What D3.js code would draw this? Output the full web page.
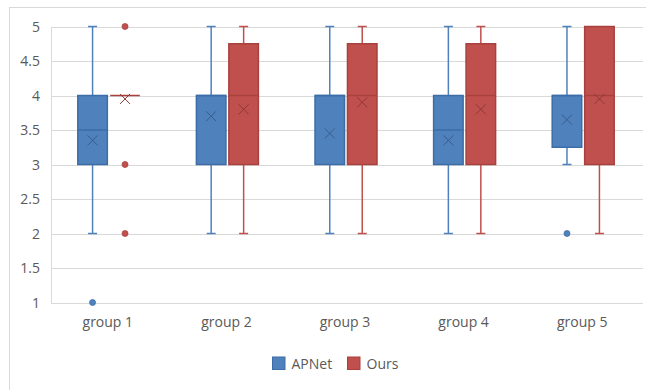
<!DOCTYPE html>
<html><head><meta charset="utf-8">
<script src="https://cdn.jsdelivr.net/npm/d3@7"></script>
<style>body{margin:0;background:#fff}svg{display:block}text{font-family:"Open Sans",sans-serif;fill:#595959}</style>
</head><body><svg id="c" width="646" height="390"></svg>
<script>
const groups = ["group 1","group 2","group 3","group 4","group 5"];
const yTicks = [1,1.5,2,2.5,3,3.5,4,4.5,5];
const seriesNames = ["APNet","Ours"];
const apnetMin = [2,2,2,2,3];
const apnetQ1 = [3,3,3,3,3.25];
const apnetMedian = [3.5,4,4,3.5,4];
const apnetQ3 = [4,4,4,4,4];
const apnetMax = [5,5,5,5,5];
const apnetMean = [3.35,3.7,3.45,3.35,3.65];
const apnetOutliers = [[1],[],[],[],[2]];
const oursMin = [4,2,2,2,2];
const oursQ1 = [4,3,3,3,3];
const oursMedian = [4,4,4,4,4];
const oursQ3 = [4,4.75,4.75,4.75,5];
const oursMax = [4,5,5,5,5];
const oursMean = [3.95,3.8,3.9,3.8,3.95];
const oursOutliers = [[5,3,2],[],[],[],[]];

const styles = [
  {fill:"#4F81BD", stroke:"#3D6DA6", dark:"#385D8A"},
  {fill:"#C0504D", stroke:"#A8403D", dark:"#8C3836"}
];
const series = [
  {name:seriesNames[0], min:apnetMin, q1:apnetQ1, med:apnetMedian, q3:apnetQ3, max:apnetMax, mean:apnetMean, out:apnetOutliers},
  {name:seriesNames[1], min:oursMin, q1:oursQ1, med:oursMedian, q3:oursQ3, max:oursMax, mean:oursMean, out:oursOutliers}
];

const svg = d3.select("#c");
svg.append("rect").attr("x",9.5).attr("y",7.5).attr("width",700).attr("height",500)
  .attr("fill","none").attr("stroke","#d9d9d9");

const x = d3.scaleBand().domain(groups).range([49.5,642.5]);
const sub = d3.scaleBand().domain(seriesNames).range([-31,31]).paddingInner(0.09);
const y = d3.scaleLinear().domain([1,5]).range([302.5,26.5]);

svg.append("g").selectAll("line").data(yTicks).join("line")
  .attr("x1",51).attr("x2",643)
  .attr("y1",d=>Math.round(y(d))+0.5).attr("y2",d=>Math.round(y(d))+0.5)
  .attr("stroke","#d9d9d9").attr("stroke-width",1);
svg.append("line").attr("x1",51.5).attr("x2",51.5).attr("y1",Math.round(y(5))+0.5).attr("y2",Math.round(y(1))+0.5)
  .attr("stroke","#d9d9d9");

const yAxis = d3.axisLeft(y).tickValues(yTicks).tickSize(0).tickPadding(0).tickFormat(d3.format("~g"));
const ya = svg.append("g").attr("transform","translate(40,0)").call(yAxis);
ya.select(".domain").remove();
ya.selectAll("text").attr("font-size",14).attr("font-family","'Open Sans',sans-serif").attr("fill","#595959").attr("dy","0.35em");

const xAxis = d3.axisBottom(x).tickSize(0).tickPadding(0);
const xa = svg.append("g").attr("transform","translate(-1,317)").call(xAxis);
xa.select(".domain").remove();
xa.selectAll("text").attr("font-size",14).attr("font-family","'Open Sans',sans-serif").attr("fill","#595959");

series.forEach((s,si)=>{
  const st = styles[si];
  const g = svg.append("g");
  groups.forEach((grp,i)=>{
    const bw = sub.bandwidth();
    const x0 = x(grp) + x.bandwidth()/2 + sub(s.name);
    const cx = x0 + bw/2;
    if (s.max[i] > s.q3[i]) {
      g.append("line").attr("x1",cx).attr("x2",cx).attr("y1",y(s.max[i])).attr("y2",y(s.q3[i])).attr("stroke",st.fill).attr("stroke-width",1.5);
      g.append("line").attr("x1",cx-4.5).attr("x2",cx+4.5).attr("y1",y(s.max[i])).attr("y2",y(s.max[i])).attr("stroke",st.fill).attr("stroke-width",1.5);
    }
    if (s.min[i] < s.q1[i]) {
      g.append("line").attr("x1",cx).attr("x2",cx).attr("y1",y(s.q1[i])).attr("y2",y(s.min[i])).attr("stroke",st.fill).attr("stroke-width",1.5);
      g.append("line").attr("x1",cx-4.5).attr("x2",cx+4.5).attr("y1",y(s.min[i])).attr("y2",y(s.min[i])).attr("stroke",st.fill).attr("stroke-width",1.5);
    }
    g.append("rect").attr("x",x0).attr("width",bw)
      .attr("y",y(s.q3[i])).attr("height",y(s.q1[i])-y(s.q3[i]))
      .attr("fill",st.fill).attr("stroke",st.stroke).attr("stroke-width",1.5);
    g.append("line").attr("x1",x0).attr("x2",x0+bw).attr("y1",y(s.med[i])).attr("y2",y(s.med[i]))
      .attr("stroke",st.stroke).attr("stroke-width",1.5);
    const my = y(s.mean[i]);
    g.append("path").attr("d",`M${cx-5},${my-5}L${cx+5},${my+5}M${cx-5},${my+5}L${cx+5},${my-5}`)
      .attr("stroke",st.dark).attr("stroke-width",1).attr("fill","none");
    s.out[i].forEach(v=>{
      g.append("circle").attr("cx",cx).attr("cy",y(v)).attr("r",3).attr("fill",st.fill).attr("stroke",st.stroke).attr("stroke-width",0.75);
    });
  });
});

const leg = svg.append("g");
const legX = [272.5, 347.5];
seriesNames.forEach((n,i)=>{
  leg.append("rect").attr("x",legX[i]).attr("y",357).attr("width",12.5).attr("height",12.5)
    .attr("fill",styles[i].fill).attr("stroke",styles[i].stroke).attr("stroke-width",1);
  leg.append("text").attr("x",legX[i]+19).attr("y",368.5).attr("font-size",14).text(n);
});
</script></body></html>
